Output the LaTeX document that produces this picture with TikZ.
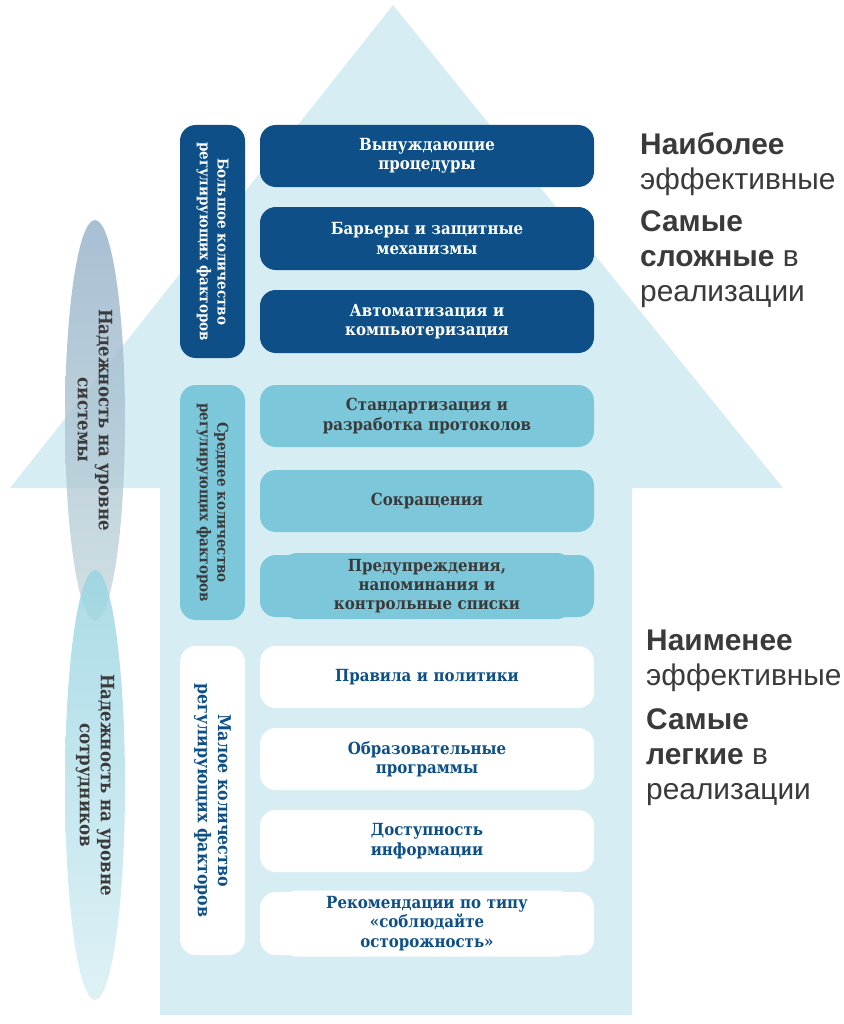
\documentclass[tikz,border=0pt]{standalone}
\usepackage{fontspec}
\setmainfont{Liberation Sans}
\newfontfamily\slab{DejaVu Serif Condensed}[BoldFont={* Bold}]
\definecolor{arr}{HTML}{D6EEF3}
\definecolor{dk}{HTML}{0D4F86}
\definecolor{md}{HTML}{7CC8DA}
\definecolor{txt}{HTML}{3A3A3A}
\tikzset{
 item/.style={rounded corners=9pt,font=\slab\bfseries\fontsize{9.5}{11}\selectfont,align=center,text width=5.6cm},
 dkb/.style={item,fill=dk,text=white},
 mdb/.style={item,fill=md,text=txt},
 wtb/.style={item,fill=white,text=dk},
 cat/.style={rounded corners=9pt,font=\slab\bfseries\fontsize{8.5}{10}\selectfont,align=center},
 side/.style={font=\fontsize{17}{20}\selectfont,text=txt,align=left,anchor=north west},
}
\begin{document}
\begin{tikzpicture}[x=0.02cm,y=-0.02cm]
\useasboundingbox (0,0) rectangle (843,1024);
\fill[arr] (393,5) -- (783,488) -- (632,488) -- (632,1015) -- (160,1015) -- (160,488) -- (10,488) -- cycle;
% ellipses
\shade[top color=dk!45!white,bottom color=arr!80!gray,opacity=0.8] (95,420) ellipse (30 and 200);
\shade[top color=md!80!white,bottom color=arr,opacity=0.8] (95,785) ellipse (30 and 215);
\node[rotate=-90,font=\slab\bfseries\fontsize{10.5}{12}\selectfont,text=txt,align=center] (e1) at (95,420) {Надежность на уровне\\системы};
\node[rotate=-90,font=\slab\bfseries\fontsize{10.5}{12}\selectfont,text=txt,align=center] (e2) at (95,785) {Надежность на уровне\\сотрудников};
% category boxes
\fill[dk,rounded corners=9pt] (180,125) rectangle (245,358);
\node[rotate=-90,cat,text=white] (c1) at (212.5,241.5) {Большое количество\\регулирующих факторов};
\fill[md,rounded corners=9pt] (180,385) rectangle (245,620);
\node[rotate=-90,cat,text=txt] (c2) at (212.5,502.5) {Среднее количество\\регулирующих факторов};
\fill[white,rounded corners=9pt] (180,646) rectangle (245,955);
\node[rotate=-90,cat,text=dk,font=\slab\bfseries\fontsize{10}{11.5}\selectfont] (c3) at (212.5,800.5) {Малое количество\\регулирующих факторов};
% items
\def\bx#1#2#3#4#5{\fill[#2,rounded corners=9pt] (260,#3) rectangle (594,#4);
 \node[#1] (n#3) at (427,{(#3+#4)/2}) {#5};}
\bx{dkb}{dk}{125}{187}{Вынуждающие\\процедуры}
\bx{dkb}{dk}{207}{270}{Барьеры и защитные\\механизмы}
\bx{dkb}{dk}{290}{353}{Автоматизация и\\компьютеризация}
\bx{mdb}{md}{385}{447}{Стандартизация и\\разработка протоколов}
\bx{mdb}{md}{470}{532}{Сокращения}
\bx{mdb}{md}{555}{617}{Предупреждения,\\напоминания и\\контрольные списки}
\bx{wtb}{white}{646}{708}{Правила и политики}
\bx{wtb}{white}{728}{790}{Образовательные\\программы}
\bx{wtb}{white}{810}{872}{Доступность\\информации}
\bx{wtb}{white}{892}{955}{Рекомендации по типу\\«соблюдайте\\осторожность»}
% side texts
\node[side] (t1) at (634,126) {\textbf{Наиболее}\\эффективные};
\node[side] (t2) at (634,204) {\textbf{Самые}\\\textbf{сложные} в\\реализации};
\node[side] (t3) at (640,624) {\textbf{Наименее}\\эффективные};
\node[side] (t4) at (640,702) {\textbf{Самые}\\\textbf{легкие} в\\реализации};
\end{tikzpicture}
\end{document}
